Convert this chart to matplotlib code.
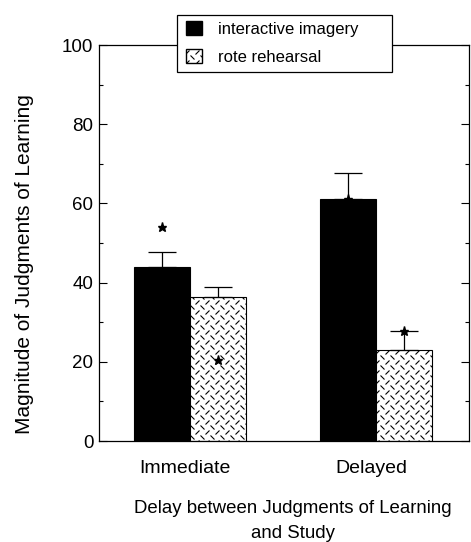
import warnings
import matplotlib
matplotlib.use("Agg")
import matplotlib.pyplot as plt
import numpy as np
from matplotlib.patches import Patch, Rectangle
from matplotlib import hatch as mhatch
from matplotlib.path import Path
from matplotlib.transforms import ScaledTranslation

warnings.filterwarnings("ignore")
plt.rcParams['font.family'] = ['Liberation Sans', 'DejaVu Sans']
plt.rcParams['hatch.linewidth'] = 0.8
plt.rcParams['hatch.color'] = '#2a2a2a'


class DashPlateHatch(mhatch.HatchPatternBase):
    """Short alternating '\\' and '/' dashes (diamond-plate texture)."""
    def __init__(self, hatch, density):
        self.n = 10 * hatch.count('d')
        self.num_lines = 2 * self.n * self.n
        self.num_vertices = 2 * self.num_lines

    def set_vertices_and_codes(self, vertices, codes):
        n = self.n
        step = 1.0 / n
        L = step * 0.16
        k = 0
        for i in range(n):
            for j in range(n):
                cx, cy = (i + 0.25) * step, (j + 0.25) * step
                vertices[k] = (cx - L, cy + L)
                vertices[k + 1] = (cx + L, cy - L)
                codes[k], codes[k + 1] = Path.MOVETO, Path.LINETO
                k += 2
                cx, cy = (i + 0.75) * step, (j + 0.75) * step
                vertices[k] = (cx - L, cy - L)
                vertices[k + 1] = (cx + L, cy + L)
                codes[k], codes[k + 1] = Path.MOVETO, Path.LINETO
                k += 2


mhatch._hatch_types.append(DashPlateHatch)

categories = ["Immediate", "Delayed"]
series_names = ["interactive imagery", "rote rehearsal"]
imagery = [44.0, 61.2]
imagery_err = [3.7, 6.5]
rote = [36.4, 23.1]
rote_err = [2.6, 4.8]
star_imagery = [54.0, 61.2]
star_rote = [20.5, 27.9]

W, H = 471, 542
fig = plt.figure(figsize=(W / 100, H / 100), dpi=100)
ax = fig.add_axes([99 / W, 1 - 441 / H, 370 / W, 396 / H])

x = np.arange(len(categories))
w = 0.30
ax.bar(x - w/2, imagery, w, color='black', edgecolor='black', linewidth=0.8)
ax.bar(x + w/2, rote, w, color='white', edgecolor='black', linewidth=0.8, hatch='d')
ax.errorbar(x - w/2, imagery, yerr=[np.zeros(2), imagery_err], fmt='none',
            ecolor='black', elinewidth=0.9, capsize=10, capthick=0.9)
ax.errorbar(x + w/2, rote, yerr=[np.zeros(2), rote_err], fmt='none',
            ecolor='black', elinewidth=0.9, capsize=10, capthick=0.9)

ax.plot(x - w/2, star_imagery, linestyle='none', marker='*', markersize=6.5,
        color='black', zorder=5)
ax.plot(x + w/2, star_rote, linestyle='none', marker='*', markersize=6.5,
        color='black', zorder=5)

ax.set_xlim(-0.49, 1.5)
ax.set_ylim(0, 100)
ax.set_yticks([0, 20, 40, 60, 80, 100])
ax.set_yticks([10, 30, 50, 70, 90], minor=True)
ax.tick_params(axis='y', which='both', direction='in', right=True, labelsize=13.5, pad=4)
ax.tick_params(axis='y', which='major', length=6, width=0.8)
ax.tick_params(axis='y', which='minor', length=3, width=0.8)
ax.set_xticks(x)
ax.set_xticklabels(categories)
ax.tick_params(axis='x', length=0, labelsize=14, pad=14)
for lbl in ax.get_xticklabels():
    lbl.set_transform(lbl.get_transform() + ScaledTranslation(-0.05, 0, fig.dpi_scale_trans))
for s in ax.spines.values():
    s.set_linewidth(0.9)

ax.set_ylabel("Magnitude of Judgments of Learning", fontsize=15)
ax.yaxis.set_label_coords(-0.175, 0.448)
ax.set_xlabel("Delay between Judgments of Learning\nand Study", fontsize=13.4,
              linespacing=1.6)
ax.xaxis.set_label_coords(0.523, -0.149)

# legend frame (wider on the right, as in the original)
frame = Rectangle((177 / W, 1 - 72 / H), 215 / W, 57 / H, transform=fig.transFigure,
                  facecolor='white', edgecolor='black', linewidth=0.9, zorder=3)
fig.add_artist(frame)
handles = [Patch(facecolor='black', edgecolor='black'),
           Patch(facecolor='white', edgecolor='black', hatch='d')]
leg = fig.legend(handles, series_names, loc='upper left',
                 bbox_to_anchor=(186 / W, 1 - 21 / H), frameon=False, fontsize=12,
                 handlelength=0.95, handleheight=0.95, handletextpad=1.0,
                 borderpad=0, labelspacing=0.73, borderaxespad=0)
leg.set_zorder(6)

fig.savefig("out.png", dpi=100)
